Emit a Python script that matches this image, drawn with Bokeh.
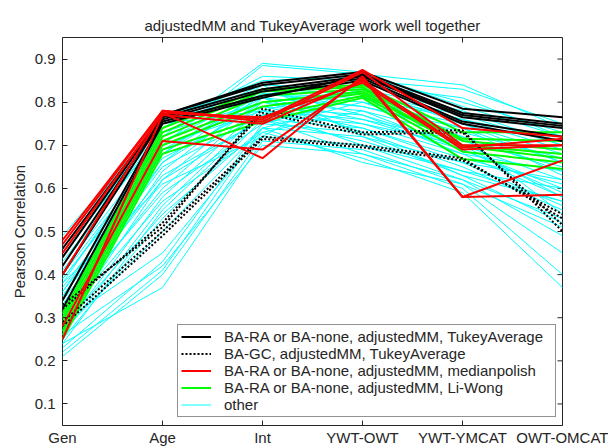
import math
from bokeh.plotting import figure
from bokeh.models import Range1d, FixedTicker, Legend, LegendItem, ColumnDataSource
from bokeh.embed import file_html
from bokeh.resources import INLINE

categories = ["Gen", "Age", "Int", "YWT-OWT", "YWT-YMCAT", "OWT-OMCAT"]
y_ticks = [0.1, 0.2, 0.3, 0.4, 0.5, 0.6, 0.7, 0.8, 0.9]
y_limits = (0.05, 0.95)
title_text = "adjustedMM and TukeyAverage work well together"
y_label = "Pearson Correlation"

legend_labels = [
    "BA-RA or BA-none, adjustedMM, TukeyAverage",
    "BA-GC, adjustedMM, TukeyAverage",
    "BA-RA or BA-none, adjustedMM, medianpolish",
    "BA-RA or BA-none, adjustedMM, Li-Wong",
    "other",
]

black_solid = [
    [0.46, 0.770, 0.845, 0.870, 0.785, 0.765],
    [0.44, 0.770, 0.840, 0.865, 0.775, 0.750],
    [0.42, 0.765, 0.830, 0.860, 0.765, 0.740],
    [0.40, 0.760, 0.825, 0.855, 0.755, 0.720],
    [0.34, 0.755, 0.815, 0.850, 0.750, 0.710],
    [0.32, 0.750, 0.810, 0.862, 0.770, 0.745],
]

black_dotted = [
    [0.33, 0.51, 0.785, 0.730, 0.735, 0.500],
    [0.32, 0.52, 0.775, 0.725, 0.730, 0.515],
    [0.29, 0.50, 0.720, 0.700, 0.670, 0.530],
    [0.28, 0.49, 0.715, 0.695, 0.665, 0.540],
]

red_lines = [
    [0.48, 0.780, 0.760, 0.875, 0.740, 0.720],
    [0.47, 0.780, 0.755, 0.870, 0.700, 0.700],
    [0.45, 0.775, 0.670, 0.860, 0.580, 0.585],
    [0.28, 0.710, 0.690, 0.855, 0.580, 0.665],
    [0.25, 0.770, 0.750, 0.850, 0.695, 0.715],
    [0.40, 0.775, 0.765, 0.845, 0.690, 0.700],
]

green_lines = [
    [0.31, 0.740, 0.830, 0.840, 0.730, 0.730],
    [0.30, 0.730, 0.825, 0.835, 0.715, 0.710],
    [0.29, 0.720, 0.815, 0.830, 0.710, 0.690],
    [0.28, 0.710, 0.800, 0.825, 0.700, 0.680],
    [0.27, 0.700, 0.790, 0.820, 0.697, 0.670],
    [0.26, 0.690, 0.765, 0.815, 0.685, 0.660],
    [0.25, 0.680, 0.755, 0.810, 0.668, 0.645],
]

cyan_lines = [
    [0.38, 0.72, 0.890, 0.870, 0.790, 0.720],
    [0.36, 0.70, 0.885, 0.865, 0.840, 0.740],
    [0.42, 0.74, 0.860, 0.850, 0.830, 0.750],
    [0.44, 0.76, 0.850, 0.860, 0.800, 0.730],
    [0.35, 0.68, 0.840, 0.830, 0.780, 0.700],
    [0.33, 0.66, 0.830, 0.820, 0.760, 0.690],
    [0.30, 0.64, 0.820, 0.800, 0.750, 0.680],
    [0.28, 0.62, 0.810, 0.790, 0.740, 0.660],
    [0.31, 0.60, 0.800, 0.780, 0.720, 0.640],
    [0.27, 0.58, 0.790, 0.770, 0.700, 0.620],
    [0.26, 0.56, 0.780, 0.760, 0.690, 0.600],
    [0.24, 0.55, 0.770, 0.750, 0.680, 0.580],
    [0.25, 0.53, 0.760, 0.740, 0.660, 0.560],
    [0.23, 0.43, 0.750, 0.730, 0.650, 0.550],
    [0.22, 0.41, 0.740, 0.720, 0.630, 0.520],
    [0.21, 0.40, 0.720, 0.700, 0.620, 0.490],
    [0.24, 0.37, 0.710, 0.690, 0.610, 0.450],
    [0.26, 0.42, 0.700, 0.680, 0.600, 0.400],
    [0.29, 0.45, 0.730, 0.670, 0.590, 0.370],
    [0.34, 0.63, 0.760, 0.710, 0.640, 0.570],
    [0.37, 0.67, 0.790, 0.740, 0.670, 0.610],
    [0.39, 0.69, 0.810, 0.760, 0.710, 0.650],
    [0.41, 0.71, 0.820, 0.790, 0.730, 0.670],
    [0.43, 0.73, 0.800, 0.820, 0.770, 0.700],
    [0.46, 0.75, 0.780, 0.840, 0.810, 0.720],
    [0.32, 0.59, 0.750, 0.810, 0.740, 0.630],
    [0.30, 0.57, 0.730, 0.780, 0.690, 0.590],
    [0.28, 0.54, 0.740, 0.800, 0.720, 0.540],
    [0.35, 0.65, 0.770, 0.830, 0.750, 0.660],
    [0.38, 0.61, 0.720, 0.850, 0.700, 0.580],
    [0.45, 0.74, 0.840, 0.720, 0.660, 0.620],
    [0.40, 0.70, 0.780, 0.700, 0.640, 0.600],
    [0.33, 0.62, 0.760, 0.680, 0.620, 0.530],
    [0.27, 0.50, 0.740, 0.660, 0.610, 0.510],
    [0.36, 0.66, 0.800, 0.750, 0.700, 0.680],
    [0.47, 0.77, 0.830, 0.770, 0.680, 0.640],
    [0.49, 0.76, 0.810, 0.730, 0.630, 0.570],
    [0.39, 0.68, 0.820, 0.810, 0.760, 0.710],
]

x_pos = list(range(1, len(categories) + 1))
FONT = "Liberation Sans"
TXT = "#262626"
FS = "15px"

p = figure(width=608, height=448, output_backend="svg", toolbar_location=None,
           x_range=Range1d(x_pos[0], x_pos[-1]), y_range=Range1d(*y_limits),
           title=title_text)
p.min_border_left = 62
p.min_border_right = 46
p.min_border_top = 37
p.min_border_bottom = 18
p.background_fill_color = "white"
p.border_fill_color = "white"
p.outline_line_color = TXT
p.outline_line_width = 1
p.grid.visible = False

p.title.text_font = FONT
p.title.text_font_size = FS
p.title.text_font_style = "normal"
p.title.text_color = TXT
p.title.align = "center"
p.title.standoff = 8


def style_axis(ax):
    ax.axis_line_color = None
    ax.major_tick_in = 5
    ax.major_tick_out = 0
    ax.minor_tick_in = 0
    ax.minor_tick_out = 0
    ax.major_tick_line_color = TXT
    ax.major_label_text_font = FONT
    ax.major_label_text_font_size = FS
    ax.major_label_text_color = TXT


p.xaxis.ticker = FixedTicker(ticks=x_pos)
p.xaxis.major_label_overrides = {i + 1: c for i, c in enumerate(categories)}
style_axis(p.xaxis[0])
p.xaxis.major_label_standoff = 3

p.yaxis.ticker = FixedTicker(ticks=y_ticks)
style_axis(p.yaxis[0])
p.yaxis.major_label_standoff = 7
p.yaxis.axis_label = y_label
p.yaxis.axis_label_text_font = FONT
p.yaxis.axis_label_text_font_size = FS
p.yaxis.axis_label_text_font_style = "normal"
p.yaxis.axis_label_text_color = TXT
p.yaxis.axis_label_standoff = 4

# inward tick marks on the top and right edges of the box
p.ray(x=x_pos, y=[y_limits[1]] * len(x_pos), length=5, length_units="screen",
      angle=-math.pi / 2, line_color=TXT, line_width=1)
p.ray(x=[x_pos[-1]] * len(y_ticks), y=y_ticks, length=5, length_units="screen",
      angle=math.pi, line_color=TXT, line_width=1)


def group(lines, color, width, dash="solid"):
    src = ColumnDataSource(dict(xs=[x_pos] * len(lines), ys=lines))
    return p.multi_line("xs", "ys", source=src, line_color=color, line_width=width, line_dash=dash)


r_cyan = group(cyan_lines, "#00FFFF", 1)
r_green = group(green_lines, "#00FF00", 2)
r_black = group(black_solid, "#000000", 2)
r_dot = group(black_dotted, "#000000", 2, "2 2")
r_red = group(red_lines, "#FF0000", 2)

legend = Legend(items=[
    LegendItem(label=legend_labels[0], renderers=[r_black]),
    LegendItem(label=legend_labels[1], renderers=[r_dot]),
    LegendItem(label=legend_labels[2], renderers=[r_red]),
    LegendItem(label=legend_labels[3], renderers=[r_green]),
    LegendItem(label=legend_labels[4], renderers=[r_cyan]),
], location=(115, 8))
legend.margin = 0
legend.padding = 3
legend.spacing = 0
legend.label_height = 17
legend.glyph_height = 17
legend.glyph_width = 30
legend.label_standoff = 13
legend.label_width = 328
legend.label_text_font = FONT
legend.label_text_font_size = FS
legend.label_text_color = TXT
legend.border_line_color = TXT
legend.border_line_width = 1
legend.background_fill_color = "white"
legend.background_fill_alpha = 1
p.add_layout(legend, "center")

open("out.html", "w").write(file_html(p, INLINE))
